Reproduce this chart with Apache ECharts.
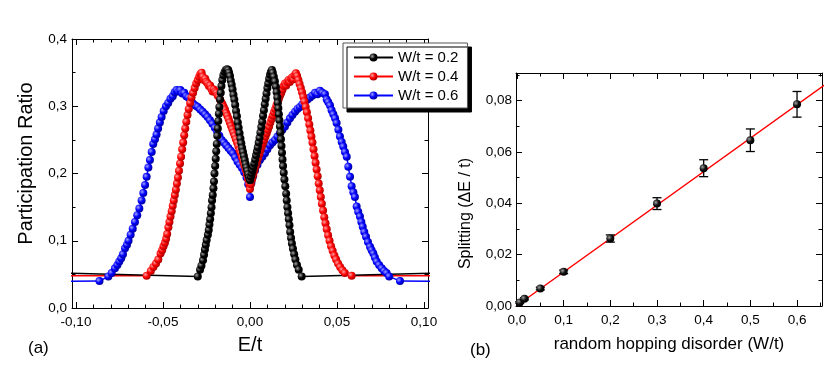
<!DOCTYPE html>
<html>
<head>
<meta charset="utf-8">
<script src="https://cdn.jsdelivr.net/npm/echarts@6/dist/echarts.min.js"></script>
<style>
	html, body { margin: 0; padding: 0; background: #fff; }
	#chart { width: 834px; height: 378px; }
</style>
</head>
<body>
<div id="chart"></div>
<script>
// (a) participation ratio vs E/t, one list of [E/t, PR] per disorder strength
var prW02 = [
	[-0.2, 0.058], [-0.0300, 0.047], [-0.0287, 0.057], [-0.0279, 0.063], [-0.0270, 0.071], [-0.0264, 0.079],
	[-0.0259, 0.087], [-0.0254, 0.094], [-0.0249, 0.101], [-0.0242, 0.109], [-0.0237, 0.116], [-0.0233, 0.124],
	[-0.0229, 0.132], [-0.0225, 0.141], [-0.0221, 0.150], [-0.0218, 0.160], [-0.0214, 0.168], [-0.0210, 0.178],
	[-0.0207, 0.188], [-0.0204, 0.200], [-0.0200, 0.211], [-0.0197, 0.222], [-0.0194, 0.233], [-0.0191, 0.244],
	[-0.0188, 0.256], [-0.0185, 0.267], [-0.0182, 0.278], [-0.0179, 0.289], [-0.0176, 0.299], [-0.0172, 0.310],
	[-0.0168, 0.320], [-0.0164, 0.330], [-0.0159, 0.339], [-0.0153, 0.346], [-0.0146, 0.351], [-0.0139, 0.354],
	[-0.0132, 0.355], [-0.0125, 0.354], [-0.0120, 0.350], [-0.0115, 0.345], [-0.0110, 0.338], [-0.0105, 0.332],
	[-0.0100, 0.325], [-0.0095, 0.317], [-0.0090, 0.310], [-0.0085, 0.302], [-0.0080, 0.293], [-0.0075, 0.285],
	[-0.0070, 0.276], [-0.0065, 0.268], [-0.0060, 0.260], [-0.0055, 0.252], [-0.0050, 0.245], [-0.0045, 0.238],
	[-0.0040, 0.232], [-0.0035, 0.226], [-0.0030, 0.220], [-0.0025, 0.214], [-0.0020, 0.209], [-0.0015, 0.204],
	[-0.0010, 0.199], [-0.0005, 0.194], [0.0000, 0.190], [0.0005, 0.195], [0.0010, 0.200], [0.0015, 0.205],
	[0.0020, 0.210], [0.0025, 0.215], [0.0030, 0.221], [0.0035, 0.227], [0.0040, 0.233], [0.0045, 0.239],
	[0.0050, 0.246], [0.0055, 0.253], [0.0060, 0.261], [0.0065, 0.269], [0.0070, 0.277], [0.0075, 0.286],
	[0.0080, 0.294], [0.0085, 0.303], [0.0090, 0.311], [0.0095, 0.319], [0.0100, 0.327], [0.0105, 0.334],
	[0.0110, 0.341], [0.0115, 0.347], [0.0120, 0.351], [0.0126, 0.354], [0.0131, 0.350], [0.0137, 0.344],
	[0.0143, 0.337], [0.0149, 0.329], [0.0153, 0.321], [0.0157, 0.313], [0.0160, 0.305], [0.0163, 0.297],
	[0.0166, 0.288], [0.0169, 0.279], [0.0172, 0.270], [0.0175, 0.261], [0.0178, 0.251], [0.0181, 0.241],
	[0.0184, 0.231], [0.0187, 0.221], [0.0190, 0.211], [0.0194, 0.201], [0.0198, 0.191], [0.0203, 0.181],
	[0.0208, 0.170], [0.0211, 0.160], [0.0215, 0.150], [0.0219, 0.141], [0.0223, 0.132], [0.0227, 0.123],
	[0.0231, 0.113], [0.0236, 0.104], [0.0241, 0.096], [0.0247, 0.088], [0.0254, 0.080], [0.0261, 0.072],
	[0.0270, 0.064], [0.0280, 0.057], [0.0297, 0.047], [0.2, 0.058]
];
var prW04 = [
	[-0.2, 0.048], [-0.0594, 0.048], [-0.0570, 0.055], [-0.0555, 0.061], [-0.0540, 0.066], [-0.0527, 0.072],
	[-0.0514, 0.081], [-0.0505, 0.086], [-0.0497, 0.092], [-0.0489, 0.097], [-0.0482, 0.103], [-0.0476, 0.110],
	[-0.0469, 0.120], [-0.0463, 0.128], [-0.0457, 0.136], [-0.0450, 0.144], [-0.0444, 0.152], [-0.0438, 0.160],
	[-0.0432, 0.168], [-0.0426, 0.176], [-0.0420, 0.185], [-0.0414, 0.194], [-0.0408, 0.204], [-0.0402, 0.215],
	[-0.0396, 0.225], [-0.0390, 0.236], [-0.0384, 0.246], [-0.0378, 0.257], [-0.0372, 0.267], [-0.0366, 0.277],
	[-0.0359, 0.287], [-0.0352, 0.296], [-0.0344, 0.305], [-0.0336, 0.313], [-0.0327, 0.320], [-0.0318, 0.327],
	[-0.0309, 0.334], [-0.0300, 0.339], [-0.0292, 0.344], [-0.0285, 0.348], [-0.0278, 0.350], [-0.0271, 0.344],
	[-0.0264, 0.339], [-0.0257, 0.341], [-0.0250, 0.336], [-0.0243, 0.334], [-0.0236, 0.330], [-0.0229, 0.331],
	[-0.0222, 0.326], [-0.0215, 0.322], [-0.0208, 0.325], [-0.0200, 0.322], [-0.0193, 0.320], [-0.0186, 0.316],
	[-0.0179, 0.314], [-0.0172, 0.310], [-0.0165, 0.306], [-0.0158, 0.303], [-0.0151, 0.299], [-0.0144, 0.295],
	[-0.0137, 0.290], [-0.0130, 0.286], [-0.0123, 0.281], [-0.0116, 0.276], [-0.0109, 0.271], [-0.0102, 0.266],
	[-0.0095, 0.261], [-0.0088, 0.256], [-0.0081, 0.251], [-0.0074, 0.246], [-0.0067, 0.241], [-0.0060, 0.235],
	[-0.0053, 0.230], [-0.0046, 0.224], [-0.0039, 0.218], [-0.0032, 0.212], [-0.0025, 0.206], [-0.0018, 0.199],
	[-0.0011, 0.192], [-0.0004, 0.184], [0.0000, 0.177], [0.0005, 0.184], [0.0012, 0.191], [0.0019, 0.198],
	[0.0026, 0.205], [0.0033, 0.211], [0.0040, 0.217], [0.0047, 0.223], [0.0054, 0.229], [0.0061, 0.235],
	[0.0068, 0.240], [0.0075, 0.245], [0.0082, 0.250], [0.0089, 0.255], [0.0096, 0.260], [0.0103, 0.265],
	[0.0110, 0.270], [0.0117, 0.276], [0.0124, 0.281], [0.0131, 0.286], [0.0138, 0.291], [0.0145, 0.296],
	[0.0152, 0.301], [0.0159, 0.306], [0.0166, 0.311], [0.0173, 0.316], [0.0180, 0.320], [0.0187, 0.325],
	[0.0194, 0.330], [0.0201, 0.334], [0.0208, 0.331], [0.0215, 0.336], [0.0222, 0.339], [0.0229, 0.336],
	[0.0236, 0.341], [0.0243, 0.343], [0.0250, 0.340], [0.0257, 0.346], [0.0264, 0.349], [0.0271, 0.345],
	[0.0278, 0.339], [0.0285, 0.333], [0.0292, 0.327], [0.0299, 0.321], [0.0306, 0.314], [0.0313, 0.307],
	[0.0320, 0.299], [0.0327, 0.291], [0.0334, 0.282], [0.0341, 0.273], [0.0347, 0.264], [0.0353, 0.255],
	[0.0359, 0.246], [0.0365, 0.236], [0.0371, 0.226], [0.0377, 0.216], [0.0383, 0.206], [0.0389, 0.196],
	[0.0395, 0.185], [0.0401, 0.175], [0.0407, 0.165], [0.0413, 0.155], [0.0420, 0.145], [0.0427, 0.135],
	[0.0434, 0.126], [0.0441, 0.117], [0.0449, 0.108], [0.0457, 0.100], [0.0466, 0.092], [0.0475, 0.085],
	[0.0485, 0.078], [0.0495, 0.072], [0.0506, 0.066], [0.0518, 0.061], [0.0531, 0.056], [0.0545, 0.052],
	[0.0584, 0.048], [0.2, 0.048]
];
var prW06 = [
	[-0.2, 0.039], [-0.0865, 0.040], [-0.0814, 0.047], [-0.0795, 0.052], [-0.0776, 0.059], [-0.0762, 0.064],
	[-0.0751, 0.069], [-0.0740, 0.074], [-0.0730, 0.080], [-0.0718, 0.089], [-0.0707, 0.094], [-0.0698, 0.100],
	[-0.0686, 0.109], [-0.0674, 0.118], [-0.0661, 0.128], [-0.0648, 0.138], [-0.0636, 0.148], [-0.0623, 0.160],
	[-0.0613, 0.171], [-0.0603, 0.183], [-0.0594, 0.195], [-0.0584, 0.209], [-0.0575, 0.220], [-0.0565, 0.232],
	[-0.0556, 0.244], [-0.0546, 0.251], [-0.0537, 0.258], [-0.0528, 0.267], [-0.0518, 0.276], [-0.0508, 0.284],
	[-0.0496, 0.293], [-0.0483, 0.300], [-0.0470, 0.305], [-0.0457, 0.311], [-0.0444, 0.315], [-0.0433, 0.321],
	[-0.0422, 0.324], [-0.0411, 0.322], [-0.0400, 0.324], [-0.0389, 0.319], [-0.0378, 0.320], [-0.0366, 0.315],
	[-0.0354, 0.313], [-0.0341, 0.308], [-0.0328, 0.304], [-0.0314, 0.301], [-0.0300, 0.299], [-0.0286, 0.295],
	[-0.0272, 0.292], [-0.0258, 0.288], [-0.0244, 0.284], [-0.0230, 0.279], [-0.0216, 0.274], [-0.0202, 0.268],
	[-0.0189, 0.262], [-0.0176, 0.256], [-0.0163, 0.250], [-0.0150, 0.246], [-0.0137, 0.242], [-0.0124, 0.238],
	[-0.0111, 0.234], [-0.0098, 0.230], [-0.0085, 0.224], [-0.0072, 0.218], [-0.0059, 0.213], [-0.0046, 0.208],
	[-0.0033, 0.202], [-0.0020, 0.194], [-0.0010, 0.184], [0.0000, 0.165], [0.0008, 0.186], [0.0018, 0.196],
	[0.0029, 0.205], [0.0043, 0.213], [0.0057, 0.220], [0.0071, 0.225], [0.0086, 0.230], [0.0100, 0.236],
	[0.0115, 0.242], [0.0129, 0.246], [0.0144, 0.250], [0.0158, 0.255], [0.0172, 0.260], [0.0186, 0.265],
	[0.0201, 0.270], [0.0215, 0.276], [0.0230, 0.282], [0.0244, 0.287], [0.0259, 0.292], [0.0273, 0.296],
	[0.0287, 0.299], [0.0301, 0.303], [0.0316, 0.307], [0.0330, 0.310], [0.0345, 0.313], [0.0359, 0.316],
	[0.0374, 0.320], [0.0388, 0.318], [0.0402, 0.323], [0.0416, 0.320], [0.0431, 0.318], [0.0441, 0.310],
	[0.0450, 0.306], [0.0460, 0.301], [0.0469, 0.294], [0.0479, 0.288], [0.0489, 0.282], [0.0498, 0.275],
	[0.0508, 0.265], [0.0517, 0.255], [0.0527, 0.247], [0.0536, 0.240], [0.0546, 0.232], [0.0556, 0.225],
	[0.0565, 0.210], [0.0575, 0.195], [0.0584, 0.181], [0.0594, 0.172], [0.0603, 0.165], [0.0613, 0.151],
	[0.0622, 0.143], [0.0632, 0.136], [0.0640, 0.128], [0.0648, 0.121], [0.0657, 0.113], [0.0667, 0.106],
	[0.0678, 0.098], [0.0690, 0.091], [0.0699, 0.086], [0.0709, 0.081], [0.0718, 0.075], [0.0728, 0.069],
	[0.0742, 0.064], [0.0757, 0.059], [0.0771, 0.055], [0.0785, 0.052], [0.0800, 0.047], [0.0862, 0.040],
	[0.2, 0.039]
];

// (b) level splitting vs random hopping disorder
var disorder = [0.006, 0.016, 0.05, 0.1, 0.2, 0.3, 0.4, 0.5, 0.6];
var splitting = [0.0014, 0.0028, 0.0068, 0.0133, 0.0263, 0.0399, 0.0537, 0.0646, 0.0786];
var splitErr = [0.0003, 0.0004, 0.0005, 0.0007, 0.0014, 0.0023, 0.0033, 0.0044, 0.0050];
var fitX = [0, 0.7];
var fitY = [0.0002, 0.0915];

// tick values
var ticksEa = [-0.10, -0.05, 0, 0.05, 0.10];
var minorEa = [-0.09, -0.08, -0.07, -0.06, -0.04, -0.03, -0.02, -0.01, 0.01, 0.02, 0.03, 0.04, 0.06, 0.07, 0.08, 0.09];
var ticksPR = [0, 0.1, 0.2, 0.3, 0.4];
var minorPR = [0.05, 0.15, 0.25, 0.35];
var ticksW = [0, 0.1, 0.2, 0.3, 0.4, 0.5, 0.6];
var minorW = [0.05, 0.15, 0.25, 0.35, 0.45, 0.55, 0.65];
var ticksS = [0, 0.02, 0.04, 0.06, 0.08];
var minorS = [0.01, 0.03, 0.05, 0.07, 0.09];

var fontFam = 'Liberation Sans, Arial, Helvetica, sans-serif';

function comma(d) {
	return function(v) {
		return v.toFixed(d).replace('.', ',');
	};
}

function ax(grid, pos, min, max, o) {
	return {
		type : 'value',
		gridIndex : grid,
		position : pos,
		min : min,
		max : max,
		splitLine : { show : false },
		axisLine : { show : !!o.line, onZero : false, lineStyle : { color : '#000', width : 1 } },
		axisTick : { show : true, inside : true, length : o.len, customValues : o.ticks, lineStyle : { color : '#000', width : 1 } },
		axisLabel : { show : !!o.fmt, customValues : o.ticks, formatter : o.fmt, color : '#000', fontSize : 13.5, fontFamily : fontFam, margin : o.margin || 5 },
		name : o.name,
		nameLocation : 'middle',
		nameGap : o.gap,
		nameTextStyle : o.nameStyle
	};
}

// 4 axes per dimension per panel: main side (ticks+labels), main side minor, opposite side, opposite minor
function frame(grid, sides, min, max, majors, minors, fmt, name, gap, nameStyle, margin) {
	return [
		ax(grid, sides[0], min, max, { line : true, len : 6, ticks : majors, fmt : fmt, name : name, gap : gap, nameStyle : nameStyle, margin : margin }),
		ax(grid, sides[0], min, max, { len : 3.5, ticks : minors }),
		ax(grid, sides[1], min, max, { line : true, len : 6, ticks : majors }),
		ax(grid, sides[1], min, max, { len : 3.5, ticks : minors })
	];
}

function ball(light, mid, dark) {
	return new echarts.graphic.RadialGradient(0.35, 0.35, 0.65, [
		{ offset : 0, color : light },
		{ offset : 0.55, color : mid },
		{ offset : 1, color : dark }
	]);
}

function prSeries(name, data, color, light, dark) {
	return {
		name : name,
		type : 'line',
		xAxisIndex : 0,
		yAxisIndex : 0,
		data : data,
		symbol : 'circle',
		symbolSize : 8,
		clip : true,
		lineStyle : { color : color, width : 1.5 },
		itemStyle : { color : ball(light, color, dark) }
	};
}

var xa = frame(0, ['bottom', 'top'], -0.1023, 0.1023, ticksEa, minorEa, comma(2), 'E/t', 27,
	{ fontSize : 20, color : '#000', fontFamily : fontFam }, 7);
var ya = frame(0, ['left', 'right'], 0, 0.4, ticksPR, minorPR, comma(1), 'Participation Ratio', 36,
	{ fontSize : 20, color : '#000', fontFamily : fontFam, padding : [0, 0, 0, 20] }, 5);
var xb = frame(1, ['bottom', 'top'], -0.0021, 0.6535, ticksW, minorW, comma(1), 'random hopping disorder (W/t)', 30,
	{ fontSize : 17, color : '#000', fontFamily : fontFam }, 7);
var yb = frame(1, ['left', 'right'], 0, 0.0908, ticksS, minorS, comma(2), 'Splitting (\u0394E / t)', 42,
	{ fontSize : 16, color : '#000', fontFamily : fontFam, padding : [0, 48, 0, 0] }, 4);

var splitData = [];
for (var i = 0; i < disorder.length; i++) {
	splitData.push([disorder[i], splitting[i], splitErr[i]]);
}
var fitData = [];
for (var j = 0; j < fitX.length; j++) {
	fitData.push([fitX[j], fitY[j]]);
}

var myChart = echarts.init(document.getElementById('chart'), null, { renderer : 'canvas' });
var option = {
	animation : false,
	backgroundColor : '#fff',
	textStyle : { fontFamily : fontFam },
	title : [
		{ text : '(a)', left : 28, top : 340, padding : 0, textStyle : { fontSize : 17, fontWeight : 'normal', color : '#000', fontFamily : fontFam } },
		{ text : '(b)', left : 470, top : 342, padding : 0, textStyle : { fontSize : 17, fontWeight : 'normal', color : '#000', fontFamily : fontFam } }
	],
	legend : {
		data : [ 'W/t = 0.2', 'W/t = 0.4', 'W/t = 0.6' ],
		orient : 'vertical',
		left : 343,
		top : 43,
		itemWidth : 39,
		itemHeight : 10,
		itemGap : 4,
		padding : [ 7, 9, 5, 10 ],
		backgroundColor : '#fff',
		borderColor : '#555',
		borderWidth : 1,
		borderRadius : 0,
		shadowColor : '#000',
		shadowBlur : 0,
		shadowOffsetX : 4,
		shadowOffsetY : 4,
		textStyle : { fontSize : 15, lineHeight : 15, color : '#000', fontFamily : fontFam },
		selectedMode : false
	},
	grid : [
		{ left : 72, top : 39, width : 356, height : 269 },
		{ left : 516, top : 73, width : 306, height : 233 }
	],
	xAxis : xa.concat(xb),
	yAxis : ya.concat(yb),
	series : [
		prSeries('W/t = 0.6', prW06, '#0000ff', '#a0a0ff', '#0000a8'),
		prSeries('W/t = 0.4', prW04, '#ff0000', '#ffa0a0', '#b00000'),
		prSeries('W/t = 0.2', prW02, '#000000', '#a0a0a0', '#000000'),
		{
			type : 'line',
			xAxisIndex : 4,
			yAxisIndex : 4,
			data : fitData,
			showSymbol : false,
			clip : true,
			lineStyle : { color : '#ff0000', width : 1.5 },
			z : 2
		},
		{
			type : 'custom',
			xAxisIndex : 4,
			yAxisIndex : 4,
			data : splitData,
			z : 3,
			renderItem : function(params, api) {
				var x = api.value(0), y = api.value(1), e = api.value(2);
				var hi = api.coord([ x, y + e ]);
				var lo = api.coord([ x, y - e ]);
				var c = api.coord([ x, y ]);
				var w = 4.5;
				var st = { stroke : '#000', lineWidth : 1.3 };
				return {
					type : 'group',
					children : [
						{ type : 'line', shape : { x1 : hi[0], y1 : hi[1], x2 : lo[0], y2 : lo[1] }, style : st },
						{ type : 'line', shape : { x1 : hi[0] - w, y1 : hi[1], x2 : hi[0] + w, y2 : hi[1] }, style : st },
						{ type : 'line', shape : { x1 : lo[0] - w, y1 : lo[1], x2 : lo[0] + w, y2 : lo[1] }, style : st },
						{ type : 'circle', shape : { cx : c[0], cy : c[1], r : 4 }, style : { fill : ball('#a0a0a0', '#111', '#000') } }
					]
				};
			}
		}
	]
};
myChart.setOption(option);
</script>
</body>
</html>
